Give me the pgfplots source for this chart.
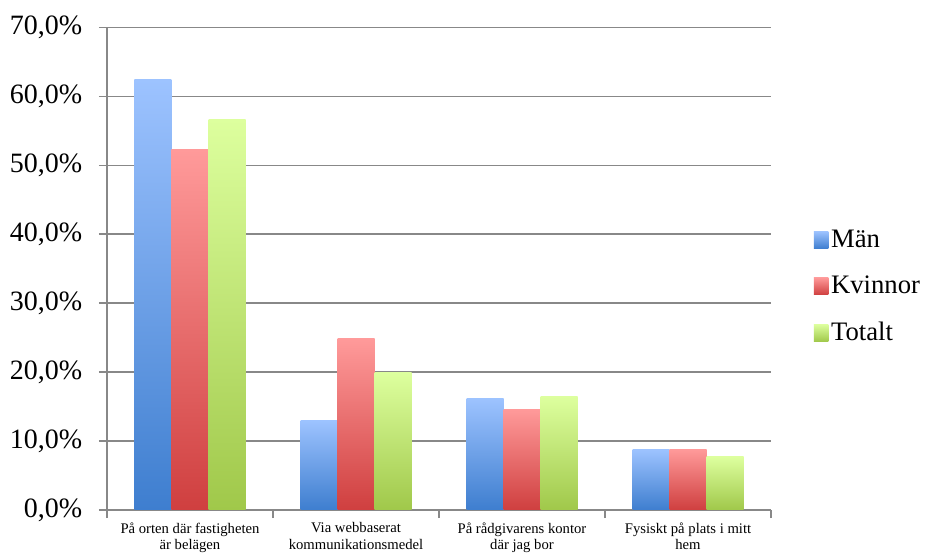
\documentclass[border=0pt]{standalone}
\usepackage{pgfplots}
\pgfplotsset{compat=1.18}
\usepackage{fontspec}
\setmainfont{Liberation Serif}

\definecolor{axgray}{HTML}{888888}
\definecolor{manTop}{HTML}{9DC3FF}
\definecolor{manBot}{HTML}{3E7ECF}
\definecolor{kvTop}{HTML}{FF9A9A}
\definecolor{kvBot}{HTML}{CF3F3F}
\definecolor{toTop}{HTML}{DDFF9E}
\definecolor{toBot}{HTML}{A0C84A}

% one shaded bar per \addplot so that every bar gets its own gradient
\pgfplotsset{
  man/.style={ybar, bar shift=-27.75pt, draw=none, top color=manTop, bottom color=manBot, forget plot},
  kv/.style={ybar, bar shift=0pt, draw=none, top color=kvTop, bottom color=kvBot, forget plot},
  to/.style={ybar, bar shift=27.75pt, draw=none, top color=toTop, bottom color=toBot, forget plot},
}

\begin{document}
\begin{tikzpicture}[x=0.75pt,y=0.75pt]
\begin{axis}[
  scale only axis,
  width=498pt, height=362pt,
  ymin=0, ymax=70,
  ytick={0,10,...,70},
  xmin=-0.5, xmax=3.5,
  xtick={0,1,2,3},
  xticklabels={{På orten där fastigheten\\är belägen},
               {Via webbaserat\\kommunikationsmedel},
               {På rådgivarens kontor\\där jag bor},
               {Fysiskt på plats i mitt\\hem}},
  minor xtick={-0.5,0.5,1.5,2.5,3.5},
  major x tick style={draw=none},
  tick align=outside,
  major tick length=6pt,
  minor tick length=6pt,
  tick style={axgray, line width=1.1pt},
  axis x line*=bottom,
  axis y line*=left,
  axis line style={axgray, line width=1.1pt},
  ymajorgrids,
  grid style={axgray, line width=1.1pt},
  yticklabel={\pgfmathprintnumber{\tick}\%},
  /pgf/number format/.cd, fixed, fixed zerofill, precision=1, use comma, assume math mode=true,
  /pgfplots/.cd,
  yticklabel style={font=\fontsize{21}{21}\selectfont, xshift=-9pt},
  xticklabel style={font=\fontsize{11}{12.5}\selectfont, align=center, yshift=0pt},
  bar width=27.75pt,
  legend style={draw=none, at={(1.058,0.464)}, anchor=west,
    font=\fontsize{20}{20}\selectfont, row sep=16pt},
  legend cell align=left,
  legend image code/.code={\path[#1, draw=none] (0pt,-7pt) rectangle (11pt,6pt);},
]
\addlegendimage{top color=manTop, bottom color=manBot}
\addlegendentry{Män}
\addlegendimage{top color=kvTop, bottom color=kvBot}
\addlegendentry{Kvinnor}
\addlegendimage{top color=toTop, bottom color=toBot}
\addlegendentry{Totalt}

\addplot[man] coordinates {(0,62.5)};
\addplot[man] coordinates {(1,13.0)};
\addplot[man] coordinates {(2,16.2)};
\addplot[man] coordinates {(3,8.8)};

\addplot[kv] coordinates {(0,52.3)};
\addplot[kv] coordinates {(1,24.8)};
\addplot[kv] coordinates {(2,14.6)};
\addplot[kv] coordinates {(3,8.8)};

\addplot[to] coordinates {(0,56.7)};
\addplot[to] coordinates {(1,19.9)};
\addplot[to] coordinates {(2,16.4)};
\addplot[to] coordinates {(3,7.7)};

\coordinate (sw) at (rel axis cs:0,0);
\end{axis}
\path (sw) ++(-107,-45) rectangle ++(927,555);
\end{tikzpicture}
\end{document}
